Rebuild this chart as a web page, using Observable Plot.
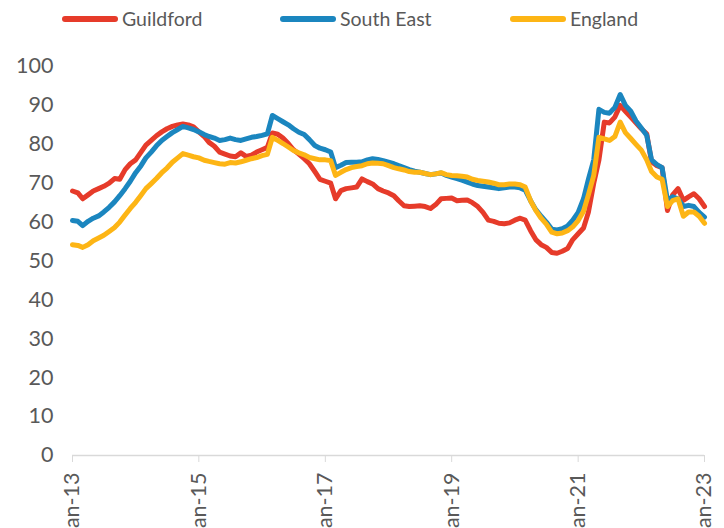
<!DOCTYPE html>
<html><head><meta charset="utf-8">
<script src="https://cdn.jsdelivr.net/npm/d3@7"></script>
<script src="https://cdn.jsdelivr.net/npm/@observablehq/plot@0.6"></script>
<style>
html,body{margin:0;padding:0;background:#fff;overflow:hidden;width:724px;height:528px}
#legend{position:relative;height:40px;font-family:Lato,sans-serif;font-size:19.5px;color:#595959}
.item{position:absolute;top:7px;display:flex;align-items:center;white-space:nowrap}
.sw{width:56px;height:6px;border-radius:3px;margin-right:4px}
#chart svg{display:block}
</style></head><body>
<div id="legend"></div>
<div id="chart"></div>
<script>
const series = ["Guildford", "South East", "England"];
const colors = ["#e63b2a", "#1b86bf", "#fdb515"];
const legendLeft = [62, 280, 510];

// Monthly values, Jan 2013 .. Jan 2023
const guildford = [
68.0,67.5,66.0,67.0,68.0,68.6,69.2,70.0,71.2,71.0,73.5,75.0,
76.0,78.0,79.8,81.0,82.2,83.2,84.0,84.6,85.0,85.2,85.0,84.5,
83.2,82.0,80.5,79.5,78.0,77.5,77.0,76.8,77.8,76.9,77.2,78.0,
78.6,79.2,82.9,82.6,81.6,80.2,78.6,77.5,76.3,75.0,73.0,71.0,
70.5,70.0,66.0,68.1,68.6,68.8,69.0,71.1,70.4,69.8,68.6,68.0,
67.5,66.8,65.5,64.2,64.0,64.1,64.2,64.0,63.5,64.5,66.0,66.1,
66.2,65.5,65.6,65.7,65.0,64.0,62.5,60.5,60.2,59.7,59.6,59.8,
60.5,61.0,60.5,57.8,55.5,54.2,53.5,52.2,52.0,52.5,53.2,55.5,
57.0,58.5,62.5,70.0,76.0,85.7,85.5,87.0,90.0,88.5,87.0,85.5,
84.0,82.7,75.5,74.5,74.0,63.0,67.0,68.6,65.6,66.5,67.3,66.0,
64.0];
const southEast = [
60.4,60.2,59.1,60.2,61.0,61.6,62.6,63.8,65.2,66.8,68.6,70.5,
72.7,74.5,76.5,78.0,79.6,81.0,82.0,83.0,83.8,84.6,84.2,83.8,
83.2,82.5,82.0,81.6,81.0,81.2,81.6,81.2,81.0,81.4,81.8,82.0,
82.3,82.7,87.4,86.6,85.8,85.0,84.0,83.1,82.5,81.2,79.7,79.0,
78.6,78.0,74.0,74.6,75.3,75.4,75.4,75.5,76.0,76.3,76.1,75.8,
75.4,75.0,74.5,74.0,73.5,73.1,72.8,72.5,72.2,72.4,72.6,72.0,
71.6,71.2,70.8,70.3,69.8,69.4,69.2,69.0,68.8,68.6,68.8,69.0,
69.0,68.8,68.2,65.5,63.2,61.5,60.0,58.2,58.0,58.3,59.0,60.5,
62.5,66.0,71.0,76.0,89.0,88.2,88.0,89.5,92.8,90.0,88.5,86.0,
84.2,82.3,76.0,74.8,74.0,65.5,66.5,66.0,64.0,64.3,64.0,62.5,
61.3];
const england = [
54.2,54.0,53.5,54.2,55.2,55.9,56.6,57.6,58.6,60.0,61.8,63.5,
65.1,66.9,68.6,69.9,71.2,72.7,73.9,75.4,76.5,77.6,77.2,76.8,
76.5,75.9,75.6,75.3,75.0,74.9,75.3,75.2,75.5,75.9,76.3,76.6,
77.1,77.4,81.8,81.0,80.2,79.3,78.4,77.8,77.3,76.6,76.3,76.0,
76.0,75.8,72.0,72.8,73.5,74.0,74.3,74.5,75.0,75.2,75.1,75.0,
74.5,74.0,73.7,73.4,73.0,72.8,72.8,72.5,72.2,72.4,72.7,72.2,
72.0,71.9,71.8,71.6,71.0,70.7,70.5,70.3,70.0,69.6,69.6,69.8,
69.8,69.6,69.0,65.5,63.0,61.0,59.5,57.4,57.0,57.2,57.8,58.8,
60.4,62.8,67.0,72.0,81.8,81.4,81.0,82.0,85.7,83.0,81.5,80.0,
78.5,76.0,73.0,71.6,71.0,64.0,65.5,66.0,61.5,62.6,62.6,61.5,
59.7];
const tickYears = [2013, 2015, 2017, 2019, 2021, 2023];
const yTicks = [0, 10, 20, 30, 40, 50, 60, 70, 80, 90, 100];

const months = d3.utcMonth.range(new Date(Date.UTC(2013, 0, 1)), new Date(Date.UTC(2023, 1, 1)));
const values = [guildford, southEast, england];
const data = [];
series.forEach((s, i) => values[i].forEach((v, j) => data.push({series: s, date: months[j], value: v})));
const tickDates = tickYears.map(y => new Date(Date.UTC(y, 0, 1)));

// legend
const lg = document.getElementById("legend");
series.forEach((s, i) => {
  const it = document.createElement("div");
  it.className = "item";
  it.style.left = legendLeft[i] + "px";
  it.innerHTML = `<span class="sw" style="background:${colors[i]}"></span><span>${s}</span>`;
  lg.appendChild(it);
});

const chart = Plot.plot({
  width: 724,
  height: 488,
  marginLeft: 72,
  marginRight: 20,
  marginTop: 26,
  marginBottom: 73,
  style: {fontFamily: "Lato, sans-serif", fontSize: "21.5px", background: "#fff"},
  x: {type: "utc", domain: [months[0], months[120]]},
  y: {domain: [0, 100]},
  color: {domain: series, range: colors},
  marks: [
    Plot.ruleY([0], {stroke: "#d9d9d9", strokeWidth: 1.5}),
    Plot.axisY({ticks: yTicks, tickSize: 0, tickPadding: 19, fill: "#595959", label: null}),
    Plot.axisX({ticks: tickDates, tickFormat: d3.utcFormat("%b-%y"), tickRotate: -90, tickSize: 7,
      tickPadding: 10, stroke: "#d9d9d9", fill: "#595959", label: null}),
    Plot.lineY(data, {x: "date", y: "value", z: "series", stroke: "series", strokeWidth: 5,
      strokeLinejoin: "round", strokeLinecap: "round"})
  ]
});
document.getElementById("chart").appendChild(chart);
</script>
</body></html>
